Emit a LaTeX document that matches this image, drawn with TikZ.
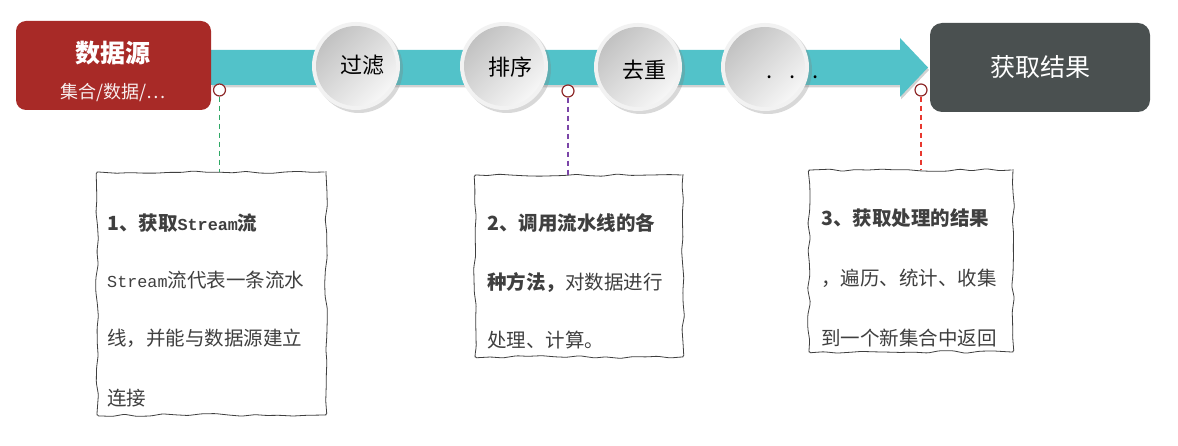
\documentclass[tikz,border=0pt]{standalone}
\usepackage{fontspec}
\newfontfamily\cjk{Noto Sans CJK SC}
\newfontfamily\mono[Scale=0.86]{Liberation Mono}
\usetikzlibrary{shadows,decorations.pathmorphing,calc}

\definecolor{srcred}{HTML}{A82A27}
\definecolor{bandteal}{HTML}{52C2C9}
\definecolor{resgray}{HTML}{4A5050}
\definecolor{knobred}{HTML}{8E2A2A}
\definecolor{txtgray}{HTML}{3F3F3F}
\definecolor{ringgray}{HTML}{F2F2F2}
\definecolor{discdark}{HTML}{C2C2C2}
\definecolor{disclight}{HTML}{F6F6F6}
\definecolor{dashgreen}{HTML}{2FA865}
\definecolor{dashpurple}{HTML}{7B45A8}
\definecolor{dashred}{HTML}{E8382F}

\tikzset{
    boxtitle/.style={text=white, font=\cjk\fontsize{25}{25}\selectfont},
    stagering/.style={circle, minimum size=88pt, inner sep=0pt, fill=ringgray,
        drop shadow={shadow xshift=3pt, shadow yshift=-3pt, opacity=.3}},
    stagedisc/.style={circle, minimum size=80pt, inner sep=0pt,
        top color=discdark, bottom color=disclight, shading angle=45},
    stagetext/.style={font=\cjk\fontsize{22}{22}\selectfont, text=black},
    knob/.style={circle, draw=knobred, fill=white, line width=1.2pt,
        minimum size=12pt, inner sep=0pt},
    notebox/.style={draw=txtgray, line width=.8pt, inner sep=0pt,
        decorate, decoration={random steps, segment length=13pt, amplitude=1.4pt},
        rounded corners=1.5pt},
    noteline/.style={anchor=west, inner sep=0pt, text=txtgray,
        font=\cjk\fontsize{19.5}{20}\selectfont},
    leader/.style={dash pattern=on 5pt off 4pt, line width=1.4pt}
}

\begin{document}
\begin{tikzpicture}[x=1pt, y=-1pt, line join=round, font=\cjk]
\pgfmathsetseed{7}

\fill[white] (0,0) rectangle (1178,446);
\useasboundingbox (0,0) rectangle (1178,446);

% ======================================
% 流水线主干（箭头）
% ======================================
\fill[bandteal, drop shadow={shadow xshift=1pt, shadow yshift=-2.5pt, opacity=.35}]
    (211,50) -- (900,50) -- (900,38) -- (928,67.5) -- (900,97) -- (900,85)
    -- (211,85) -- cycle;

% ======================================
% 数据源 / 获取结果
% ======================================
\node[fill=srcred, rounded corners=10pt, minimum width=195pt, minimum height=89pt,
      inner sep=0pt] (source) at (113.5,65.5) {};
\node[boxtitle, font=\cjk\bfseries\fontsize{25}{25}\selectfont] (srcname) at (113,53) {数据源};
\node[text=white!92!srcred, font=\cjk\fontsize{18}{18}\selectfont] (srcitems) at (113,93)
    {集合/数据/…};

\node[fill=resgray, rounded corners=12pt, minimum width=220pt, minimum height=89pt,
      inner sep=0pt] (result) at (1040,67.5) {};
\node[boxtitle] (resname) at (1040,67) {获取结果};

% ======================================
% 中间操作
% ======================================
\node[stagering] (filterring) at (356,66) {};
\node[stagedisc] (filter) at (356,66) {};
\node[stagetext] (filtertext) at (362,65) {过滤};

\node[stagering] (sortring) at (504,66) {};
\node[stagedisc] (sort) at (504,66) {};
\node[stagetext] (sorttext) at (510,67) {排序};

\node[stagering] (distinctring) at (638,67) {};
\node[stagedisc] (distinct) at (638,67) {};
\node[stagetext] (distincttext) at (644,70) {去重};

\node[stagering] (morering) at (765,67) {};
\node[stagedisc] (more) at (765,67) {};
\node[stagetext, anchor=base, inner sep=0pt] (moretext) at (793,78.5)
    {\makebox[23pt]{.}\makebox[23pt]{.}\makebox[23pt]{.}};

% ======================================
% 说明框
% ======================================
\node[notebox, minimum width=229pt, minimum height=243pt] (note1) at (211.5,293.5) {};
\node[notebox, minimum width=208pt, minimum height=182pt] (note2) at (579,266) {};
\node[notebox, minimum width=204pt, minimum height=182pt] (note3) at (911,261) {};

% 引出点与虚线
\node[knob] (knob1) at (219.5,90) {};
\node[knob] (knob2) at (568,91) {};
\node[knob] (knob3) at (921,90) {};

\draw[leader, draw=dashgreen] (knob1.south) -- (knob1.south |- note1.north);
\draw[leader, draw=dashpurple] (knob2.south) -- (knob2.south |- note2.north);
\draw[leader, draw=dashred] (knob3.south) -- (knob3.south |- note3.north);

% 说明文字
\node[noteline, font=\cjk\bfseries\fontsize{19.5}{20}\selectfont] (note1title) at (107,223)
    {1、获取{\mono\bfseries Stream}流};
\node[noteline] (note1a) at (107,280) {{\mono Stream}流代表一条流水};
\node[noteline] (note1b) at (107,338) {线，并能与数据源建立};
\node[noteline] (note1c) at (107,398) {连接};

\node[noteline, font=\cjk\bfseries\fontsize{19.5}{20}\selectfont] (note2title) at (487,223)
    {2、调用流水线的各};
\node[noteline] (note2a) at (487,283) {{\bfseries 种方法，}对数据进行};
\node[noteline] (note2b) at (487,340) {处理、计算。};

\node[noteline, font=\cjk\bfseries\fontsize{19.5}{20}\selectfont] (note3title) at (821,218)
    {3、获取处理的结果};
\node[noteline] (note3a) at (821,278) {，遍历、统计、收集};
\node[noteline] (note3b) at (821,338) {到一个新集合中返回};

\end{tikzpicture}
\end{document}
